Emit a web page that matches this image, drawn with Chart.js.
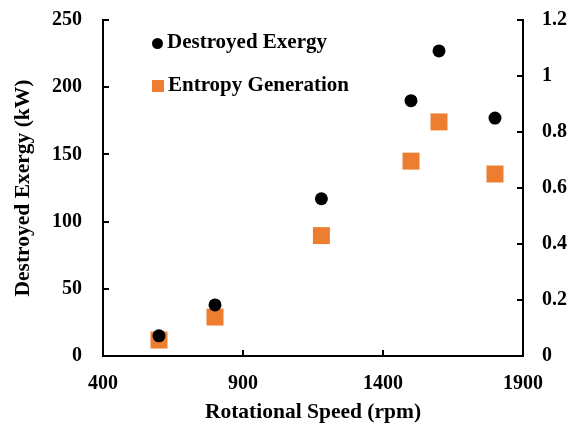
<!DOCTYPE html>
<html>
<head>
<meta charset="utf-8">
<script src="https://cdn.jsdelivr.net/npm/chart.js@4"></script>
<style>
    body { margin: 0; background: #fff; }
    #wrap { position: relative; width: 577px; height: 428px; }
    .leg { position: absolute; left: 152px; font: bold 21px 'Liberation Serif', serif; color: #000; white-space: nowrap; }
    .leg span.m { display: inline-block; vertical-align: middle; margin-right: 4px; }
    .dot { width: 11px; height: 11px; border-radius: 50%; background: #000; }
    .sq { width: 12px; height: 12px; background: #ED7D31; }
</style>
</head>
<body>
<div id="wrap">
    <canvas id="chart" width="577" height="428"></canvas>
    <div class="leg" style="top: 29px;"><span class="m dot"></span>Destroyed Exergy</div>
    <div class="leg" style="top: 72px;"><span class="m sq"></span>Entropy Generation</div>
</div>
<script>
// valores
const speedExergy = [600, 800, 1180, 1500, 1600, 1800];
const destroyedExergy = [15, 38, 117, 190, 227, 177];
const speedEntropy = [600, 800, 1180, 1500, 1600, 1800];
const entropyGeneration = [0.057, 0.139, 0.43, 0.696, 0.836, 0.65];

const xTicks = [400, 900, 1400, 1900];
const leftTicks = [0, 50, 100, 150, 200, 250];
const rightTicks = [0, 0.2, 0.4, 0.6, 0.8, 1, 1.2];

const family = "'Liberation Serif', 'Times New Roman', serif";
const tickFont = { family: family, weight: 'bold', size: 20 };
const titleFont = { family: family, weight: 'bold', size: 21.5 };

const toPoints = (xs, ys) => xs.map((x, i) => ({ x: x, y: ys[i] }));
const plain = v => String(v);

// el padding de las etiquetas no debe empujar el área del gráfico
const fitVertical = w => s => {
    s.width = w;
    s.paddingTop = 0;
    s.paddingBottom = 0;
};

const axisGrid = {
    drawOnChartArea: false,
    drawTicks: true,
    tickLength: -6,
    color: '#000',
    lineWidth: 2
};
const axisBorder = { display: true, color: '#000', width: 2 };

new Chart(document.getElementById('chart'), {
    type: 'scatter',
    data: {
        datasets: [
            {
                label: 'Destroyed Exergy',
                data: toPoints(speedExergy, destroyedExergy),
                yAxisID: 'y',
                pointStyle: 'circle',
                pointRadius: 6.5,
                pointHoverRadius: 6.5,
                backgroundColor: '#000',
                borderColor: '#000',
                borderWidth: 0
            },
            {
                label: 'Entropy Generation',
                data: toPoints(speedEntropy, entropyGeneration),
                yAxisID: 'y2',
                pointStyle: 'rect',
                pointRadius: 12,
                pointHoverRadius: 12,
                backgroundColor: '#ED7D31',
                borderColor: '#ED7D31',
                borderWidth: 0
            }
        ]
    },
    options: {
        responsive: false,
        animation: false,
        layout: { padding: { top: 20, left: 0, right: 0, bottom: 0 } },
        plugins: {
            legend: { display: false },
            tooltip: { enabled: false }
        },
        scales: {
            x: {
                type: 'linear',
                min: 400,
                max: 1900,
                afterBuildTicks: s => { s.ticks = xTicks.map(v => ({ value: v })); },
                afterFit: s => { s.height = 72; },
                grid: axisGrid,
                border: axisBorder,
                ticks: { color: '#000', font: tickFont, padding: 22, maxRotation: 0, callback: plain },
                title: {
                    display: true,
                    text: 'Rotational Speed (rpm)',
                    color: '#000',
                    font: titleFont,
                    padding: { top: 0, bottom: 3 }
                }
            },
            y: {
                position: 'left',
                min: 0,
                max: 250,
                afterBuildTicks: s => { s.ticks = leftTicks.map(v => ({ value: v })); },
                afterFit: fitVertical(103),
                grid: axisGrid,
                border: axisBorder,
                ticks: { color: '#000', font: tickFont, padding: 27, callback: plain },
                title: {
                    display: true,
                    text: 'Destroyed Exergy (kW)',
                    color: '#000',
                    font: titleFont,
                    padding: { top: 11, bottom: 0 }
                }
            },
            y2: {
                position: 'right',
                min: 0,
                max: 1.2,
                afterBuildTicks: s => { s.ticks = rightTicks.map(v => ({ value: v })); },
                afterFit: fitVertical(54),
                grid: axisGrid,
                border: axisBorder,
                ticks: { color: '#000', font: tickFont, padding: 25, callback: plain }
            }
        }
    }
});
</script>
</body>
</html>
